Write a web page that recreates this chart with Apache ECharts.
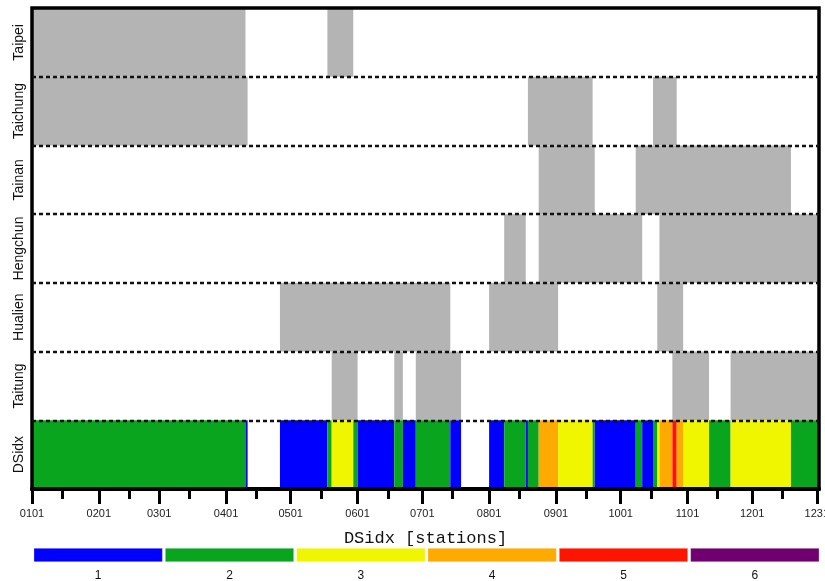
<!DOCTYPE html>
<html>
<head>
<meta charset="utf-8">
<script src="https://cdn.jsdelivr.net/npm/echarts@6/dist/echarts.min.js"></script>
<style>
  html, body { margin: 0; padding: 0; background: #ffffff; }
  #chart { width: 825px; height: 581px; }
</style>
</head>
<body>
<div id="chart"></div>
<script>
// Rows, top to bottom
const rowNames = ['Taipei', 'Taichung', 'Tainan', 'Hengchun', 'Hualien', 'Taitung', 'DSidx'];

// Dry-spell periods per station, as [start day, end day] (day 0 = Jan 1)
const taipeiSpells   = [[0, 99], [137, 149]];
const taichungSpells = [[0, 100], [230, 260], [288, 299]];
const tainanSpells   = [[235, 261], [280, 352]];
const hengchunSpells = [[219, 229], [235, 283], [291, 365]];
const hualienSpells  = [[115, 194], [212, 244], [290, 302]];
const taitungSpells  = [[139, 151], [168, 172], [178, 199], [297, 314], [324, 365]];

// DSidx: number of stations in a dry spell, as runs
const dsStart = [0, 99, 115, 137, 139, 149, 151, 168, 172, 178, 194, 212, 219, 229, 230, 235, 244, 260, 261, 280, 283, 288, 290, 291, 297, 299, 302, 314, 324, 352];
const dsEnd   = [99, 100, 137, 139, 149, 151, 168, 172, 178, 194, 199, 219, 229, 230, 235, 244, 260, 261, 280, 283, 288, 290, 291, 297, 299, 302, 314, 324, 352, 365];
const dsLevel = [2, 1, 1, 2, 3, 2, 1, 2, 1, 2, 1, 1, 2, 1, 2, 4, 3, 2, 1, 2, 1, 2, 3, 4, 5, 4, 3, 2, 3, 2];

// Colour scale for DSidx levels 1..6
const levels = ['1', '2', '3', '4', '5', '6'];
const levelColors = ['#0000ff', '#0aa51e', '#f0f500', '#ffaa00', '#ff1400', '#700070'];

// Axis ticks: first of each month (labelled) and mid-month (minor)
const monthTicks = [0, 31, 59, 90, 120, 151, 181, 212, 243, 273, 304, 334, 364];
const monthLabels = ['0101', '0201', '0301', '0401', '0501', '0601', '0701', '0801', '0901', '1001', '1101', '1201', '1231'];
const midTicks = [14, 45, 73, 104, 134, 165, 195, 226, 257, 287, 318, 348];

const stationSpells = [taipeiSpells, taichungSpells, tainanSpells, hengchunSpells, hualienSpells, taitungSpells];

// Flatten station spells into [start, end, row] items
const spellData = [];
stationSpells.forEach((spells, row) => {
  spells.forEach(s => spellData.push([s[0], s[1], row]));
});
const dsRow = rowNames.length - 1;
const dsData = dsStart.map((s, i) => [s, dsEnd[i], dsRow, dsLevel[i]]);

function renderBlock(params, api) {
  const p0 = api.coord([api.value(0), api.value(2)]);
  const p1 = api.coord([api.value(1), api.value(2) + 1]);
  const color = api.value(3) ? levelColors[api.value(3) - 1] : '#b4b4b4';
  return {
    type: 'rect',
    shape: { x: p0[0], y: p0[1], width: p1[0] - p0[0], height: p1[1] - p0[1] },
    style: { fill: color }
  };
}

const chart = echarts.init(document.getElementById('chart'), null, { renderer: 'canvas' });

const FONT = '"Liberation Sans", Arial, Helvetica, sans-serif';

chart.setOption({
  animation: false,
  backgroundColor: '#ffffff',
  grid: [
    { left: 32, top: 8, width: 787, height: 481, outerBoundsMode: 'none', containLabel: false, show: true, z: 5, borderColor: '#000', borderWidth: 3.5, backgroundColor: 'transparent' },
    { left: 32.5, top: 548, width: 788, height: 14, outerBoundsMode: 'none', containLabel: false }
  ],
  xAxis: [
    {
      gridIndex: 0, type: 'value', min: 0, max: 365, position: 'bottom', z: 6,
      axisLine: { show: true, onZero: false, lineStyle: { color: '#000', width: 4 } },
      axisTick: { show: true, length: 15, customValues: monthTicks, lineStyle: { color: '#000', width: 3 } },
      axisLabel: {
        customValues: monthTicks,
        formatter: v => monthLabels[monthTicks.indexOf(v)],
        alignMinLabel: 'center', alignMaxLabel: 'center',
        fontFamily: FONT, fontSize: 11, color: '#222', margin: 19
      },
      splitLine: { show: false },
      name: 'DSidx [stations]', nameLocation: 'middle', nameGap: 41,
      nameTextStyle: { fontFamily: '"Liberation Mono", "DejaVu Sans Mono", monospace', fontSize: 17, color: '#111' }
    },
    {
      gridIndex: 0, type: 'value', min: 0, max: 365, position: 'bottom', offset: 0, z: 6,
      axisLine: { show: false, onZero: false },
      axisTick: { show: true, length: 10, customValues: midTicks, lineStyle: { color: '#000', width: 3 } },
      axisLabel: { show: false },
      splitLine: { show: false }
    },
    {
      gridIndex: 1, type: 'category', data: levels,
      axisLine: { show: false }, axisTick: { show: false },
      axisLabel: { fontFamily: FONT, fontSize: 12, color: '#111', margin: 8 }
    }
  ],
  yAxis: [
    {
      gridIndex: 0, type: 'value', min: 0, max: 7, inverse: true,
      axisLine: { show: false }, axisTick: { show: false },
      splitLine: { show: false },
      axisLabel: {
        customValues: rowNames.map((n, i) => i + 0.5),
        formatter: v => rowNames[Math.floor(v)],
        rotate: 90, align: 'center', verticalAlign: 'bottom', margin: 6,
        fontFamily: FONT, fontSize: 14, color: '#111'
      }
    },
    {
      gridIndex: 1, type: 'value', min: 0, max: 1, show: false
    }
  ],
  series: [
    {
      type: 'custom', xAxisIndex: 0, yAxisIndex: 0,
      renderItem: renderBlock,
      data: spellData, silent: true, z: 2
    },
    {
      type: 'custom', xAxisIndex: 0, yAxisIndex: 0,
      renderItem: renderBlock,
      data: dsData, silent: true, z: 2,
      markLine: {
        silent: true, symbol: 'none', label: { show: false },
        lineStyle: { color: '#111', type: [4, 3], width: 2.4 },
        data: [1, 2, 3, 4, 5, 6].map(v => ({ yAxis: v }))
      }
    },
    {
      type: 'bar', xAxisIndex: 2, yAxisIndex: 1,
      barWidth: 129, silent: true,
      data: levels.map((l, i) => ({ value: 1, itemStyle: { color: levelColors[i], borderColor: 'rgba(255,255,255,0.5)', borderWidth: 0.6 } }))
    }
  ]
});
</script>
</body>
</html>
